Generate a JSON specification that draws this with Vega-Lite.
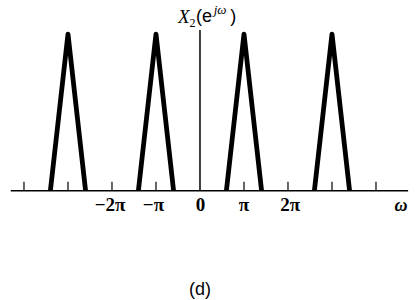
{
  "$schema": "https://vega.github.io/schema/vega-lite/v6.json",
  "width": 417,
  "height": 300,
  "padding": 0,
  "autosize": {"type": "none"},
  "background": "white",
  "config": {"view": {"stroke": null}},
  "datasets": {
    "tri": [
      {"g": "a", "x": -3.4, "y": 0}, {"g": "a", "x": -3, "y": 0.985}, {"g": "a", "x": -2.6, "y": 0},
      {"g": "b", "x": -1.4, "y": 0}, {"g": "b", "x": -1, "y": 0.985}, {"g": "b", "x": -0.6, "y": 0},
      {"g": "c", "x": 0.6, "y": 0}, {"g": "c", "x": 1, "y": 0.985}, {"g": "c", "x": 1.4, "y": 0},
      {"g": "d", "x": 2.6, "y": 0}, {"g": "d", "x": 3, "y": 0.985}, {"g": "d", "x": 3.4, "y": 0}
    ],
    "haxis": [{"x": -4.3, "x2": 4.73, "y": 0}],
    "vaxis": [{"x": 0, "y": 0, "y2": 1.01}],
    "ticks": [
      {"x": -4, "y": 0, "y2": 0.057}, {"x": -3, "y": 0, "y2": 0.057},
      {"x": -2, "y": 0, "y2": 0.057}, {"x": -1, "y": 0, "y2": 0.057},
      {"x": 1, "y": 0, "y2": 0.057}, {"x": 2, "y": 0, "y2": 0.057},
      {"x": 3, "y": 0, "y2": 0.057}, {"x": 4, "y": 0, "y2": 0.057}
    ],
    "ticklabels": [
      {"x": -2.045, "y": -0.087, "label": "−2π"},
      {"x": -1.057, "y": -0.087, "label": "−π"},
      {"x": 0.01, "y": -0.087, "label": "0"},
      {"x": 1.0, "y": -0.087, "label": "π"},
      {"x": 2.05, "y": -0.087, "label": "2π"}
    ],
    "omega": [{"x": 4.57, "y": -0.095, "label": "ω"}],
    "titleX": [{"x": -0.5, "y": 1.092, "label": "X"}],
    "titleSub": [{"x": -0.24, "y": 1.055, "label": "2"}],
    "titleParen": [{"x": -0.09, "y": 1.092, "label": "(e"}, {"x": 0.69, "y": 1.092, "label": ")"}],
    "titleSup": [{"x": 0.31, "y": 1.136, "label": "jω"}],
    "caption": [{"x": 0, "y": -0.625, "label": "(d)"}]
  },
  "encoding": {
    "x": {"field": "x", "type": "quantitative", "axis": null, "scale": {"domain": [-4.545, 4.932], "nice": false, "zero": false}},
    "y": {"field": "y", "type": "quantitative", "axis": null, "scale": {"domain": [-0.687, 1.199], "nice": false, "zero": false}}
  },
  "layer": [
    {
      "data": {"name": "haxis"},
      "mark": {"type": "rule", "color": "black", "strokeWidth": 1.6},
      "encoding": {"x2": {"field": "x2"}}
    },
    {
      "data": {"name": "vaxis"},
      "mark": {"type": "rule", "color": "black", "strokeWidth": 1.5},
      "encoding": {"y2": {"field": "y2"}}
    },
    {
      "data": {"name": "ticks"},
      "mark": {"type": "rule", "color": "black", "strokeWidth": 1.2},
      "encoding": {"y2": {"field": "y2"}}
    },
    {
      "data": {"name": "tri"},
      "mark": {"type": "line", "color": "black", "strokeWidth": 4.8, "strokeJoin": "round"},
      "encoding": {"detail": {"field": "g"}, "order": {"field": "x"}}
    },
    {
      "data": {"name": "ticklabels"},
      "mark": {"type": "text", "font": "Liberation Serif", "fontSize": 19, "fontWeight": "bold", "color": "black", "align": "center", "baseline": "middle"},
      "encoding": {"text": {"field": "label"}}
    },
    {
      "data": {"name": "omega"},
      "mark": {"type": "text", "font": "Liberation Serif", "fontSize": 18, "fontStyle": "italic", "fontWeight": "bold", "color": "black", "align": "center", "baseline": "middle"},
      "encoding": {"text": {"field": "label"}}
    },
    {
      "data": {"name": "titleX"},
      "mark": {"type": "text", "font": "Liberation Serif", "fontSize": 19, "fontStyle": "italic", "color": "black", "align": "left", "baseline": "middle"},
      "encoding": {"text": {"field": "label"}}
    },
    {
      "data": {"name": "titleSub"},
      "mark": {"type": "text", "font": "Liberation Serif", "fontSize": 12, "color": "black", "align": "left", "baseline": "middle"},
      "encoding": {"text": {"field": "label"}}
    },
    {
      "data": {"name": "titleParen"},
      "mark": {"type": "text", "font": "Liberation Sans", "fontSize": 18, "color": "black", "align": "left", "baseline": "middle"},
      "encoding": {"text": {"field": "label"}}
    },
    {
      "data": {"name": "titleSup"},
      "mark": {"type": "text", "font": "Liberation Serif", "fontSize": 13, "fontStyle": "italic", "color": "black", "align": "left", "baseline": "middle"},
      "encoding": {"text": {"field": "label"}}
    },
    {
      "data": {"name": "caption"},
      "mark": {"type": "text", "font": "Liberation Sans", "fontSize": 18, "color": "black", "align": "center", "baseline": "middle"},
      "encoding": {"text": {"field": "label"}}
    }
  ]
}
